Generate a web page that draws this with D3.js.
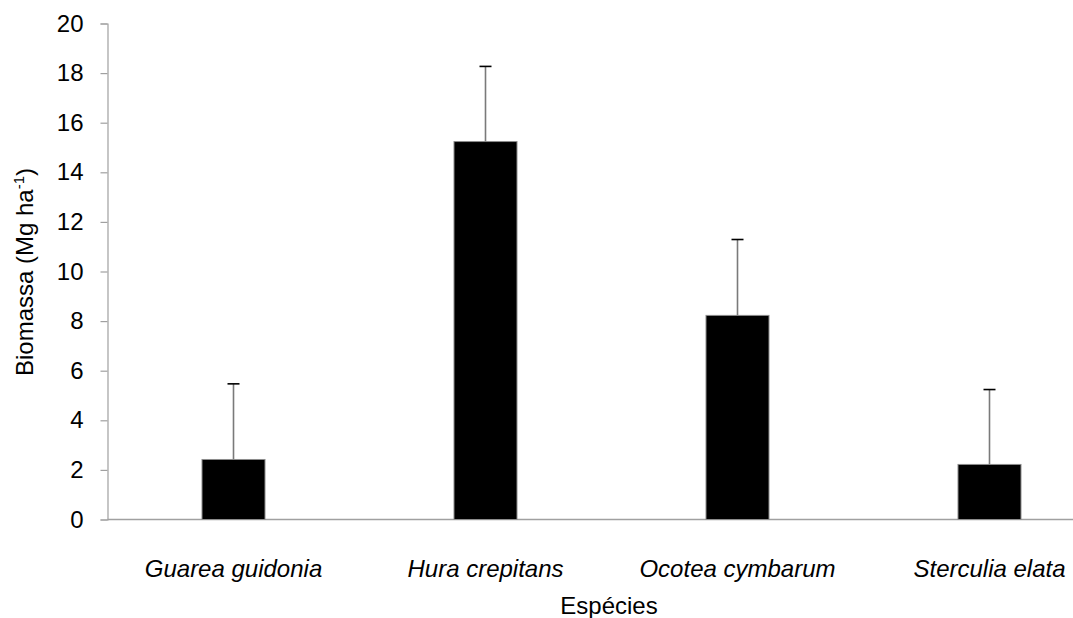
<!DOCTYPE html>
<html>
<head>
<meta charset="utf-8">
<script src="https://cdn.jsdelivr.net/npm/d3@7"></script>
<style>
  html, body { margin: 0; padding: 0; background: #fff; }
  svg { display: block; font-family: "Liberation Sans", Arial, sans-serif; }
</style>
</head>
<body>
<svg id="chart" width="1073" height="618"></svg>
<script>
// Biomass per species (Mg ha-1) with standard deviation
const species = ["Guarea guidonia", "Hura crepitans", "Ocotea cymbarum", "Sterculia elata"];
const biomass = [2.42, 15.24, 8.23, 2.22];
const deviation = [3.05, 3.03, 3.06, 3.02];
const yTicks = [0, 2, 4, 6, 8, 10, 12, 14, 16, 18, 20];

const svg = d3.select("#chart");
const axisColor = "#a0a0a0";
const fontSize = "24px";

const x = d3.scaleBand()
  .domain(species)
  .range([107.5, 1115.5])
  .paddingInner(0.75)
  .paddingOuter(0.375);

const y = d3.scaleLinear().domain([0, 20]).range([519.5, 23.5]);

// y axis
const yAxis = svg.append("g")
  .attr("transform", "translate(107.5,0)")
  .call(d3.axisLeft(y).tickValues(yTicks).tickSize(7).tickPadding(17).tickFormat(d3.format("d")));
yAxis.select(".domain").attr("stroke", axisColor).attr("stroke-width", 1.2);
yAxis.selectAll(".tick line").attr("stroke", axisColor).attr("stroke-width", 1.2);
yAxis.selectAll(".tick text")
  .attr("fill", "#000")
  .style("font-size", fontSize)
  .style("font-family", "'Liberation Sans', Arial, sans-serif");

// x axis baseline
svg.append("line")
  .attr("x1", 107.5).attr("x2", 1073)
  .attr("y1", y(0)).attr("y2", y(0))
  .attr("stroke", axisColor).attr("stroke-width", 1.5);

// bars
svg.append("g").selectAll("rect")
  .data(species)
  .join("rect")
  .attr("x", d => x(d))
  .attr("width", x.bandwidth())
  .attr("y", (d, i) => y(biomass[i]))
  .attr("height", (d, i) => y(0) - y(biomass[i]))
  .attr("fill", "#000")
  .attr("stroke", "#8c8c8c")
  .attr("stroke-width", 1);

// error bars (upper only)
const err = svg.append("g");
species.forEach((d, i) => {
  const cx = x(d) + x.bandwidth() / 2;
  err.append("line")
    .attr("x1", cx).attr("x2", cx)
    .attr("y1", y(biomass[i])).attr("y2", y(biomass[i] + deviation[i]))
    .attr("stroke", "#7a7a7a").attr("stroke-width", 1.6);
  err.append("line")
    .attr("x1", cx - 6).attr("x2", cx + 6)
    .attr("y1", y(biomass[i] + deviation[i])).attr("y2", y(biomass[i] + deviation[i]))
    .attr("stroke", "#000").attr("stroke-width", 1.6);
});

// category labels
svg.append("g").selectAll("text")
  .data(species)
  .join("text")
  .attr("x", d => x(d) + x.bandwidth() / 2)
  .attr("y", 577)
  .attr("text-anchor", "middle")
  .style("font-size", fontSize)
  .style("font-style", "italic")
  .text(d => d);

// axis titles
svg.append("text")
  .attr("x", 609).attr("y", 614)
  .attr("text-anchor", "middle")
  .style("font-size", fontSize)
  .text("Espécies");

const yt = svg.append("text")
  .attr("transform", "translate(33,272) rotate(-90)")
  .attr("text-anchor", "middle")
  .style("font-size", fontSize);
yt.append("tspan").text("Biomassa (Mg ha");
yt.append("tspan").attr("dy", -9).style("font-size", "15px").text("-1");
yt.append("tspan").attr("dy", 9).text(")");
</script>
</body>
</html>
